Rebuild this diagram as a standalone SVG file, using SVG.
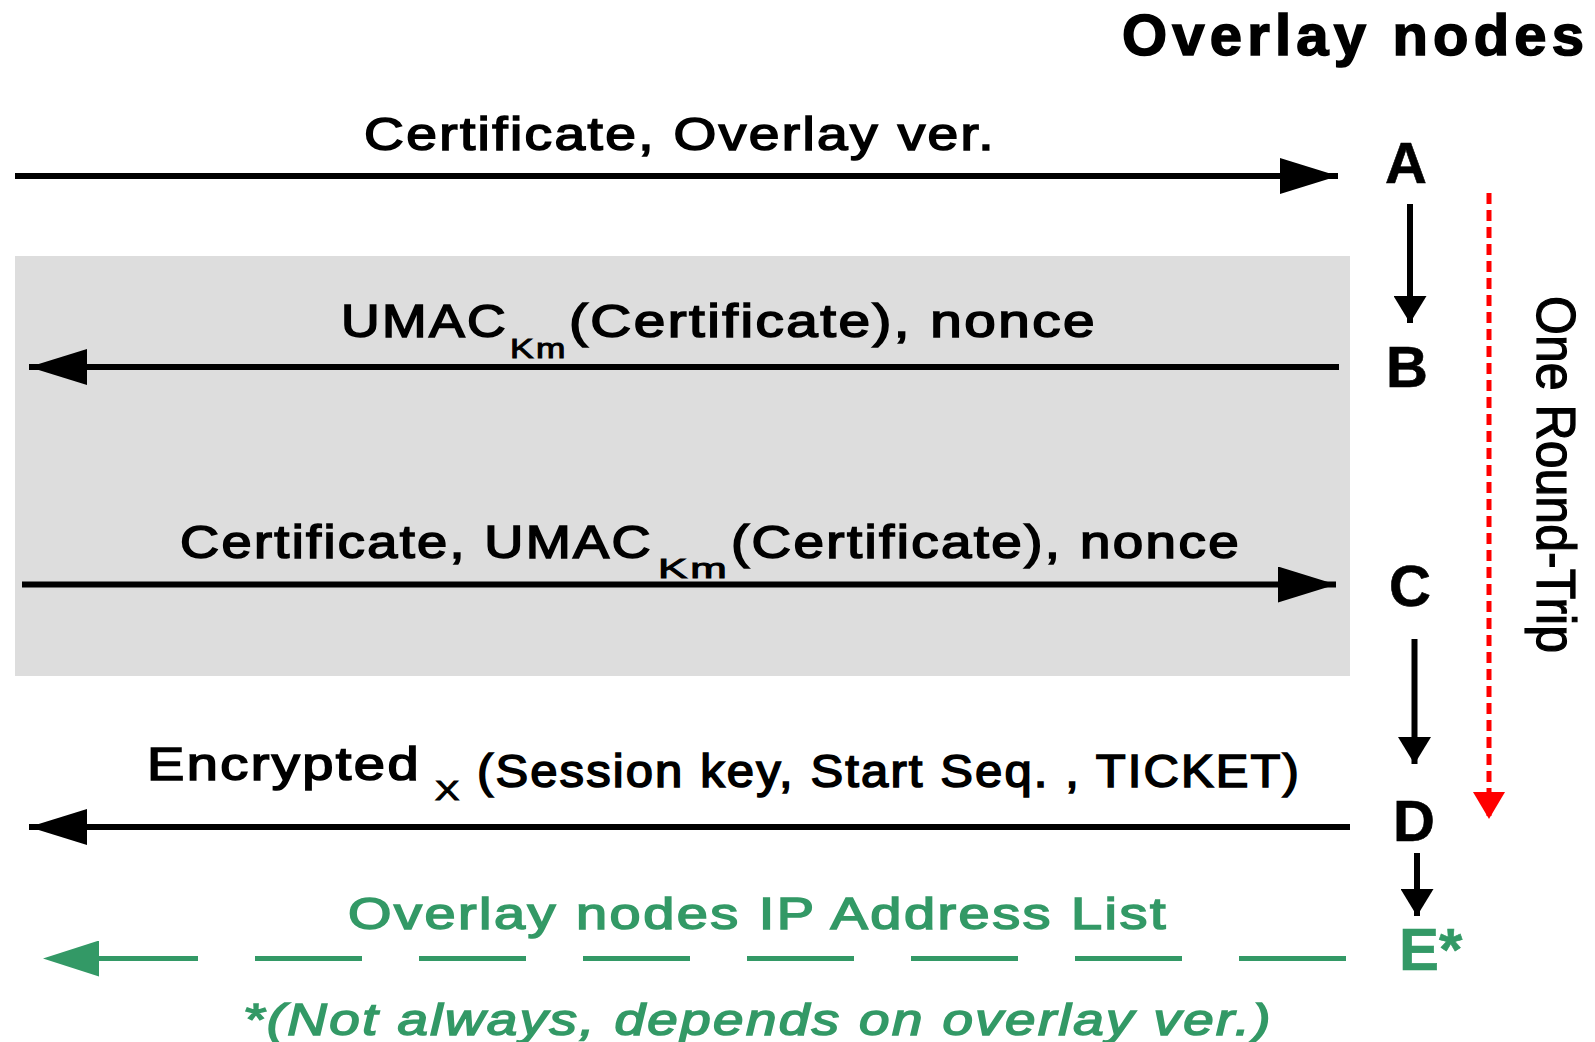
<svg xmlns="http://www.w3.org/2000/svg" width="1595" height="1042" viewBox="0 0 1595 1042">
<style>
  text { font-family: "Liberation Sans", Arial, sans-serif; }
  .lbl { font-size: 46px; fill: #000; stroke: #000; stroke-width: 1.6; letter-spacing: 2px; }
  .sub { font-size: 28px; fill: #000; stroke: #000; stroke-width: 1; letter-spacing: 2px; }
  .node { font-size: 58px; font-weight: bold; fill: #000; text-anchor: middle; stroke: #000; stroke-width: 0.6; }
  .green { fill: #339966; stroke: #339966; stroke-width: 1.6; letter-spacing: 2px; }
  .rt { font-size: 56px; fill: #000; stroke: #000; stroke-width: 1.2; }
  .ln { stroke: #000; stroke-width: 6; fill: none; }
  .gln { stroke: #339966; stroke-width: 5; fill: none; }
  .rln { stroke: #ff0000; stroke-width: 5; fill: none; stroke-dasharray: 11 6; }
</style>
<defs>
  <marker id="ah" markerUnits="userSpaceOnUse" markerWidth="58" markerHeight="36" viewBox="0 0 58 36" refX="58" refY="18" orient="auto">
    <path d="M0,0 L58,18 L0,36 Z" fill="#000"/>
  </marker>
  <marker id="av" markerUnits="userSpaceOnUse" markerWidth="27" markerHeight="33" viewBox="0 0 27 33" refX="27" refY="16.5" orient="auto">
    <path d="M0,0 L27,16.5 L0,33 Z" fill="#000"/>
  </marker>
  <marker id="ar" markerUnits="userSpaceOnUse" markerWidth="27" markerHeight="32" viewBox="0 0 27 32" refX="27" refY="16" orient="auto">
    <path d="M0,0 L27,16 L0,32 Z" fill="#ff0000"/>
  </marker>
  <marker id="ag" markerUnits="userSpaceOnUse" markerWidth="56" markerHeight="36" viewBox="0 0 56 36" refX="56" refY="18" orient="auto">
    <path d="M0,0 L56,18 L0,36 Z" fill="#339966"/>
  </marker>
</defs>
<rect width="1595" height="1042" fill="#fff"/>
<g id="shaded-exchange">
  <rect x="15" y="256" width="1335" height="420" fill="#dddddd"/>
</g>
<g id="title">
  <text x="1122" y="55" font-size="58" font-weight="bold" textLength="462" lengthAdjust="spacing" stroke="#000" stroke-width="1.6">Overlay nodes</text>
</g>
<g id="node-A"><text class="node" x="1406" y="183">A</text></g>
<g id="node-B"><text class="node" x="1407" y="387" font-size="60">B</text></g>
<g id="node-C"><text class="node" x="1410" y="606" font-size="60">C</text></g>
<g id="node-D"><text class="node" x="1414" y="841">D</text></g>
<g id="node-E"><text x="1399" y="970" font-size="60" font-weight="bold" fill="#339966" stroke="#339966" stroke-width="0.6">E*</text></g>
<g id="round-trip">
  <text class="rt" transform="translate(1537,296) rotate(90)" x="0" y="0" textLength="357" lengthAdjust="spacingAndGlyphs">One Round-Trip</text>
</g>
<g id="connectors">
  <line class="ln" x1="15" y1="176" x2="1338" y2="176" marker-end="url(#ah)"/>
  <line class="ln" x1="1339" y1="367" x2="29" y2="367" marker-end="url(#ah)"/>
  <line class="ln" x1="22" y1="584.5" x2="1336" y2="584.5" marker-end="url(#ah)"/>
  <line class="ln" x1="1350" y1="827" x2="29" y2="827" marker-end="url(#ah)"/>
  <path class="gln" d="M1346,958.5 H43" stroke-dasharray="107 57" marker-end="url(#ag)"/>
  <line class="ln" x1="1410" y1="204" x2="1410" y2="323" marker-end="url(#av)"/>
  <line class="ln" x1="1414.5" y1="639" x2="1414.5" y2="764" marker-end="url(#av)"/>
  <line class="ln" x1="1417" y1="853" x2="1417" y2="916" marker-end="url(#av)"/>
  <line class="rln" x1="1489" y1="193" x2="1489" y2="819" marker-end="url(#ar)"/>
</g>
<g id="labels">
  <text class="lbl" x="364" y="150" textLength="632" lengthAdjust="spacingAndGlyphs">Certificate, Overlay ver.</text>
  <text class="lbl" x="341" y="337" font-size="44" textLength="167" lengthAdjust="spacingAndGlyphs">UMAC</text>
  <text class="sub" x="510" y="358" textLength="58" lengthAdjust="spacingAndGlyphs">Km</text>
  <text class="lbl" x="569" y="337" font-size="44" textLength="528" lengthAdjust="spacingAndGlyphs">(Certificate), nonce</text>
  <text class="lbl" x="180" y="558" textLength="473" lengthAdjust="spacingAndGlyphs">Certificate, UMAC</text>
  <text class="sub" x="658" y="578" textLength="72" lengthAdjust="spacingAndGlyphs">Km</text>
  <text class="lbl" x="731" y="558" textLength="510" lengthAdjust="spacingAndGlyphs">(Certificate), nonce</text>
  <text class="lbl" x="147" y="780" textLength="274" lengthAdjust="spacingAndGlyphs">Encrypted</text>
  <text class="sub" x="435" y="800" textLength="27" lengthAdjust="spacingAndGlyphs">X</text>
  <text class="lbl" x="477" y="787" font-size="42" textLength="824" lengthAdjust="spacingAndGlyphs">(Session key, Start Seq. , TICKET)</text>
  <text class="green" x="348" y="929" font-size="45" textLength="820" lengthAdjust="spacingAndGlyphs">Overlay nodes IP Address List</text>
  <text class="green" x="243" y="1035" font-size="45" font-style="italic" textLength="1030" lengthAdjust="spacingAndGlyphs">*(Not always, depends on overlay ver.)</text>
</g>
</svg>
